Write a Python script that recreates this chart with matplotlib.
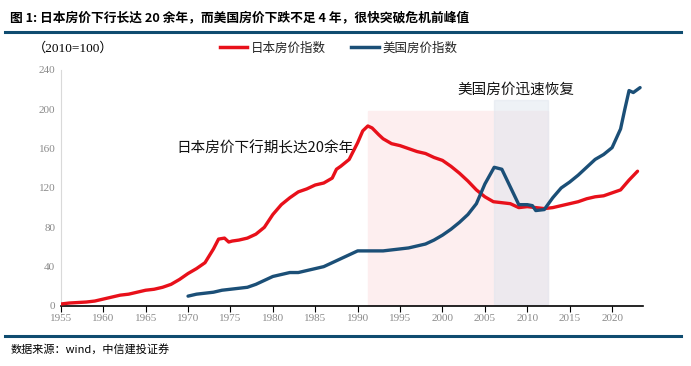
import matplotlib
matplotlib.use("Agg")
import matplotlib.pyplot as plt
from matplotlib.lines import Line2D

plt.rcParams['font.family'] = ['Noto Sans CJK SC', 'DejaVu Sans']

# Japan house price index (2010=100)
jp_years = [1955, 1956, 1957, 1958, 1959, 1960, 1961, 1962, 1963, 1964, 1965, 1966, 1967,
            1968, 1969, 1970, 1971, 1972, 1973, 1973.6, 1974.3, 1974.8, 1975.2, 1976, 1977,
            1978, 1979, 1980, 1981, 1982, 1983, 1984, 1985, 1986, 1987, 1987.5, 1988, 1989,
            1990, 1990.6, 1991.2, 1991.7, 1992.5, 1993, 1994, 1995, 1996, 1997, 1998, 1999,
            2000, 2001, 2002, 2003, 2004, 2005, 2006, 2007, 2008, 2009, 2010, 2011, 2012,
            2013, 2014, 2015, 2016, 2017, 2018, 2019, 2020, 2021, 2022, 2023]
jp_values = [2, 3, 3.5, 4, 5, 7, 9, 11, 12, 14, 16, 17, 19,
             22, 27, 33, 38, 44, 58, 68, 69, 65, 66, 67, 69,
             73, 80, 93, 103, 110, 116, 119, 123, 125, 130, 139, 142, 149,
             166, 178, 183, 181, 174, 170, 165, 163, 160, 157, 155, 151,
             148, 142, 135, 127, 118, 111, 106, 105, 104, 100, 101, 100, 99,
             100, 102, 104, 106, 109, 111, 112, 115, 118, 128, 137]

# US house price index (2010=100)
us_years = [1970, 1971, 1972, 1973, 1974, 1975, 1976, 1977, 1978, 1979, 1980, 1981, 1982,
            1983, 1984, 1985, 1986, 1987, 1988, 1989, 1990, 1991, 1992, 1993, 1994, 1995,
            1996, 1997, 1998, 1999, 2000, 2001, 2002, 2003, 2004, 2005, 2006.1, 2007,
            2008, 2009, 2010, 2010.6, 2011, 2012, 2013, 2014, 2015, 2016, 2017, 2018,
            2019, 2020, 2021, 2021.5, 2022, 2022.5, 2023.3]
us_values = [10, 12, 13, 14, 16, 17, 18, 19, 22, 26, 30, 32, 34,
             34, 36, 38, 40, 44, 48, 52, 56, 56, 56, 56, 57, 58,
             59, 61, 63, 67, 72, 78, 85, 93, 104, 124, 141, 139,
             121, 103, 103, 102, 97, 98, 110, 120, 126, 133, 141, 149,
             154, 161, 180, 200, 219, 217, 222]

y_ticks = [0, 40, 80, 120, 160, 200, 240]
x_ticks = list(range(1955, 2021, 5))

red = '#e8101a'
blue = '#1b4f77'
grey = '#8a8a8a'

fig = plt.figure(figsize=(6.91, 3.66), dpi=100)
ax = fig.add_axes([0.088, 0.164, 0.842, 0.645])

# shaded periods
ax.axvspan(1991.2, 2012.4, ymin=-0.01, ymax=198 / 240, color='#fdeeef', zorder=0)
ax.axvspan(2006.1, 2012.4, ymin=0.01, ymax=209 / 240, color='#dfe6ee', alpha=0.5, zorder=0)

ax.plot(jp_years, jp_values, color=red, lw=2.4, solid_capstyle='round', zorder=3)
ax.plot(us_years, us_values, color=blue, lw=2.4, solid_capstyle='round', zorder=3)

ax.set_xlim(1955, 2023.6)
ax.set_ylim(0, 240)
ax.set_yticks(y_ticks)
ax.set_xticks(x_ticks)
ax.tick_params(axis='y', length=0, colors=grey, labelsize=8, pad=4)
ax.tick_params(axis='x', length=4, direction='out', color='black', labelcolor=grey,
               labelsize=8, pad=2)
for lbl in ax.get_xticklabels() + ax.get_yticklabels():
    lbl.set_family(['Liberation Serif', 'DejaVu Serif'])
ax.spines['top'].set_visible(False)
ax.spines['right'].set_visible(False)
ax.spines['left'].set_color('#d9d9d9')
ax.spines['bottom'].set_color('black')
ax.spines['bottom'].set_linewidth(1.2)

ax.text(1968.6, 160, '日本房价下行期长达20余年', fontsize=10.5, va='center', color='#111111')
ax.text(2001.8, 220, '美国房价迅速恢复', fontsize=10.5, va='center', color='#111111')

# title, rules, notes
fig.text(0.014, 0.952, '图 1: 日本房价下行长达 20 余年，而美国房价下跌不足 4 年，很快突破危机前峰值',
         fontsize=9.2, fontweight='bold', va='center', ha='left')
fig.add_artist(Line2D([0.007, 0.985], [0.912, 0.912], color='#0f4c70', lw=2.2))
fig.add_artist(Line2D([0.007, 0.985], [0.082, 0.082], color='#0f4c70', lw=2.2))
fig.text(0.048, 0.868, '（2010=100）', fontsize=9.5, va='center', ha='left',
         family=['Liberation Serif', 'Noto Sans CJK SC'])
fig.text(0.016, 0.042, '数据来源：wind，中信建投证券', fontsize=8, style='italic',
         va='center', ha='left')

handles = [Line2D([], [], color=red, lw=2.5), Line2D([], [], color=blue, lw=2.5)]
fig.legend(handles, ['日本房价指数', '美国房价指数'], loc='center', bbox_to_anchor=(0.49, 0.868),
           ncol=2, frameon=False, fontsize=9, handlelength=2.2, handletextpad=0.3,
           columnspacing=2.0, labelcolor='#222222')

fig.savefig('out.png', dpi=100)
